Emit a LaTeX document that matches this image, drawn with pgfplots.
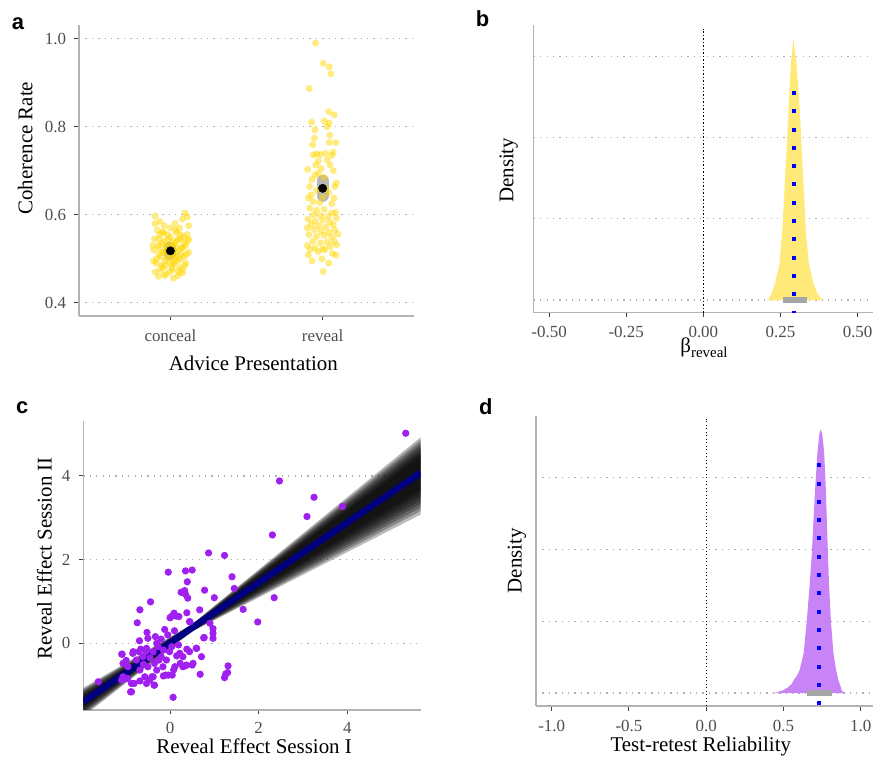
\documentclass[border=0pt]{standalone}
\usepackage{pgfplots}
\pgfplotsset{compat=1.18}
\usepackage{fontspec}
\setmainfont{Liberation Serif}
\newfontfamily\panelfont{Liberation Sans}
\definecolor{tickgray}{HTML}{4D4D4D}
\definecolor{axgray}{HTML}{B3B3B3}
\definecolor{gridgray}{HTML}{AEAEAE}
\definecolor{goldpt}{HTML}{FFD700}
\definecolor{densy}{RGB}{255,233,120}
\definecolor{densp}{RGB}{200,132,246}
\definecolor{ptpurple}{HTML}{A020F0}
\definecolor{ciGray}{HTML}{A6A6A6}
\definecolor{navyl}{HTML}{000080}
\pgfplotsset{
 ggbase/.style={
  scale only axis,
  anchor=south west,
  axis x line*=bottom, axis y line*=left,
  axis line style={axgray, line width=1.4bp},
  tick align=outside,
  major tick length=4.5bp,
  tick style={black!75, line width=1.0bp},
  xticklabel style={anchor=base, inner sep=0pt, yshift=-20.7bp, font=\fontsize{17}{17}\selectfont, text=tickgray},
  yticklabel style={anchor=east, inner sep=0pt, xshift=-8.3bp, font=\fontsize{17}{17}\selectfont, text=tickgray},
  label style={font=\fontsize{21}{21}\selectfont, inner sep=0pt},
  major grid style={gridgray, line width=1.3bp, dash pattern=on 1.3bp off 5.1bp},
  /pgf/number format/assume math mode=true,
 },
 gridl/.style={gridgray, line width=1.3bp, dash pattern=on 1.3bp off 5.1bp, forget plot},
 zerol/.style={black, line width=1.2bp, dash pattern=on 1.2bp off 2.3bp},
 bluedot/.style={blue, line width=4bp, dash pattern=on 4bp off 14.3bp},
 bandl/.style={draw=none, fill=black, fill opacity=0.27},
}
\begin{document}
\begin{tikzpicture}
\useasboundingbox (0,0) rectangle (873bp,758bp);
% ---------------- panel a ----------------
\begin{axis}[ggbase, at={(79bp,442bp)}, width=335bp, height=291bp,
 xmin=0.4, xmax=2.6, ymin=0.370, ymax=1.031,
 xtick={1,2}, xticklabels={conceal,reveal},
 ytick={0.4,0.6,0.8,1.0}, yticklabels={0.4,0.6,0.8,1.0},
 ymajorgrids,
 xlabel={Advice Presentation}, ylabel={Coherence Rate},
 xlabel style={at={(axis description cs:0.5203,-0.188)}, anchor=base},
 ylabel style={at={(axis description cs:-0.1394,0.5763)}, anchor=base}]
\addplot[only marks, mark=*, mark size=3.5bp, mark options={fill=goldpt, fill opacity=0.5, draw opacity=0}] coordinates {
(0.90,0.470)(0.91,0.500)(0.92,0.530)(0.93,0.555)(0.94,0.485)(0.95,0.515)(0.96,0.540)(0.97,0.465)
(0.98,0.500)(0.99,0.525)(1.00,0.550)(1.01,0.480)(1.02,0.510)(1.03,0.535)(1.04,0.560)(1.05,0.495)
(1.06,0.520)(1.07,0.545)(1.08,0.475)(1.09,0.505)(1.10,0.530)(1.11,0.555)(1.12,0.515)(0.89,0.520)
(0.895,0.545)(0.905,0.490)(0.915,0.565)(0.925,0.510)(0.935,0.475)(0.945,0.535)(0.955,0.560)(0.965,0.495)
(0.975,0.520)(0.985,0.545)(0.995,0.470)(1.005,0.505)(1.015,0.530)(1.025,0.490)(1.035,0.515)(1.045,0.540)
(1.055,0.470)(1.065,0.500)(1.075,0.525)(1.085,0.550)(1.095,0.485)(1.105,0.510)(1.115,0.540)(0.90,0.580)
(0.90,0.597)(0.93,0.585)(0.96,0.575)(1.00,0.570)(1.03,0.580)(1.06,0.570)(1.08,0.590)(1.096,0.604)
(1.11,0.595)(1.12,0.575)(0.92,0.460)(0.96,0.462)(1.02,0.456)(1.05,0.462)(1.08,0.468)(0.94,0.505)
(0.97,0.530)(1.00,0.490)(1.03,0.500)(1.06,0.480)(1.09,0.535)(0.99,0.510)(1.01,0.540)(1.04,0.525)
(0.98,0.555)(0.95,0.560)(1.07,0.510)(1.02,0.490)(0.97,0.485)(1.05,0.545)(0.93,0.525)(1.08,0.525)
(1.00,0.530)(1.04,0.505)(0.96,0.515)(1.10,0.490)(1.12,0.545)(0.89,0.495)(0.885,0.530)(0.95,0.480)
(1.015,0.475)(1.065,0.555)(0.925,0.545)(1.035,0.565)
(1.954,0.990)(2.004,0.944)(2.043,0.936)(2.054,0.920)(1.912,0.887)(2.041,0.834)(2.076,0.827)(1.928,0.810)
(2.011,0.813)(2.044,0.808)(1.950,0.793)(2.030,0.800)(1.945,0.774)(2.048,0.781)(1.934,0.759)(2.043,0.764)
(2.087,0.764)(1.938,0.736)(1.960,0.738)(1.985,0.737)(2.020,0.740)(2.060,0.735)(2.070,0.742)(1.972,0.722)
(2.048,0.713)(1.955,0.713)(1.902,0.703)(1.971,0.694)(2.070,0.700)(2.030,0.725)(1.990,0.705)(1.930,0.680)
(2.010,0.685)(2.090,0.672)(1.915,0.664)(2.080,0.664)(1.960,0.655)(2.040,0.650)(1.906,0.638)(2.075,0.638)
(1.938,0.630)(2.000,0.640)(1.925,0.645)(2.060,0.625)(1.980,0.627)(2.020,0.660)(1.950,0.690)(1.915,0.615)
(1.960,0.610)(2.010,0.612)(2.060,0.604)(1.940,0.600)(1.985,0.598)(2.035,0.596)(2.085,0.605)(1.905,0.590)
(1.950,0.585)(2.000,0.588)(2.045,0.583)(2.090,0.592)(1.925,0.578)(1.975,0.575)(2.020,0.572)(2.070,0.577)
(1.900,0.570)(1.945,0.566)(1.990,0.562)(2.040,0.560)(2.080,0.565)(1.910,0.555)(1.960,0.551)(2.010,0.553)
(2.060,0.550)(2.100,0.556)(1.935,0.540)(1.985,0.536)(2.030,0.538)(2.075,0.540)(1.900,0.530)(1.950,0.525)
(2.000,0.522)(2.050,0.528)(2.092,0.532)(1.920,0.521)(1.970,0.516)(2.015,0.521)(2.065,0.512)(2.088,0.508)
(1.906,0.509)(1.995,0.500)(2.004,0.471)(1.930,0.495)(2.040,0.490)
};
\addplot[ciGray, line width=12bp, line cap=round, opacity=0.8] coordinates {(1,0.511)(1,0.525)};
\addplot[ciGray, line width=12bp, line cap=round, opacity=0.8] coordinates {(2,0.643)(2,0.677)};
\addplot[only marks, mark=*, mark size=4.2bp, mark options={fill=black, draw=black}] coordinates {(1,0.518)(2,0.660)};
\end{axis}
% ---------------- panel b ----------------
\begin{axis}[ggbase, at={(533.7bp,445.3bp)}, width=339.3bp, height=287.7bp,
 xmin=-0.55, xmax=0.55, ymin=-0.156, ymax=3.387,
 xtick={-0.5,-0.25,0,0.25,0.5}, xticklabels={-0.50,-0.25,0.00,0.25,0.50},
 ytick=\empty,
 xlabel={β\raisebox{-4.5bp}{\fontsize{15}{15}\selectfont reveal}}, ylabel={Density},
 xlabel style={at={(axis description cs:0.502,-0.140)}, anchor=base},
 ylabel style={at={(axis description cs:-0.0601,0.495)}, anchor=base}]
\addplot[gridl] coordinates {(-0.55,0)(0.55,0)};
\addplot[gridl] coordinates {(-0.55,1)(0.55,1)};
\addplot[gridl] coordinates {(-0.55,2)(0.55,2)};
\addplot[gridl] coordinates {(-0.55,3)(0.55,3)};
\addplot[zerol] coordinates {(0,-0.156)(0,3.34)};
\addplot[draw=none, fill=densy] coordinates {
(0.205,0)(0.211,0.01)(0.222,0.086)(0.233,0.21)(0.247,0.45)(0.256,0.86)(0.262,1.27)(0.267,1.68)
(0.273,2.09)(0.278,2.50)(0.284,2.915)(0.2916,3.22)(0.302,2.915)(0.310,2.50)(0.316,2.09)(0.321,1.68)
(0.327,1.27)(0.332,0.86)(0.342,0.45)(0.356,0.21)(0.369,0.086)(0.383,0.01)(0.395,0)} \closedcycle;
\addplot[ciGray, line width=6.5bp] coordinates {(0.257,0)(0.337,0)};
\addplot[bluedot] coordinates {(0.295,2.575)(0.295,-0.16)};
\end{axis}
% ---------------- panel c ----------------
\begin{axis}[ggbase, at={(83.3bp,48bp)}, width=337.4bp, height=289.3bp,
 xmin=-1.957, xmax=5.657, ymin=-1.594, ymax=5.32,
 xtick={0,2,4}, xticklabels={0,2,4}, ytick={0,2,4}, yticklabels={0,2,4},
 ymajorgrids,
 xticklabel style={yshift=1.5bp},
 xlabel={Reveal Effect Session I}, ylabel={Reveal Effect Session II},
 xlabel style={at={(axis description cs:0.5065,-0.152)}, anchor=base},
 ylabel style={at={(axis description cs:-0.0937,0.524)}, anchor=base}]
\addplot[only marks, mark=*, mark size=3.65bp, mark options={fill=ptpurple, draw opacity=0}] coordinates {
(5.32,5.02)(2.47,3.88)(3.25,3.49)(3.09,3.03)(3.89,3.27)(2.31,2.59)(2.35,1.09)(1.98,0.51)
(1.65,0.81)(1.40,1.59)(1.45,1.31)(1.23,2.10)(0.87,2.16)(-0.04,1.70)(0.35,1.73)(0.50,1.75)
(0.39,1.47)(0.30,1.21)(0.35,1.17)(0.40,1.08)(0.78,1.27)(1.00,1.09)(-0.44,0.99)(-0.68,0.80)
(-0.74,0.49)(0.00,0.61)(0.09,0.72)(0.20,0.64)(0.38,0.73)(0.45,0.51)(0.67,0.80)(-0.12,0.33)
(-0.52,0.26)(-0.50,0.12)(-0.33,0.16)(-0.69,0.06)(0.77,0.14)(0.97,0.12)(0.97,0.35)(0.90,0.48)
(0.97,0.24)(0.76,0.13)(0.44,0.52)(0.14,0.65)(0.03,0.64)(0.25,1.22)(0.33,1.26)(-1.09,-0.26)
(-0.99,-0.41)(-0.83,-0.20)(-0.66,-0.14)(-0.53,-0.12)(-0.30,0.00)(-0.15,-0.16)(0.04,-0.08)(0.19,-0.04)
(0.38,-0.14)(0.60,-0.12)(0.71,-0.32)(0.50,-0.52)(0.34,-0.54)(0.23,-0.48)(0.08,-0.64)(-0.04,-0.76)
(-0.15,-0.78)(-0.30,-0.64)(-0.41,-0.80)(-0.53,-0.96)(-0.36,-1.00)(-0.68,-0.90)(-0.81,-0.96)(-0.89,-1.16)
(-0.96,-0.84)(-1.09,-0.88)(-1.62,-0.92)(0.07,-1.29)(0.68,-0.74)(1.23,-0.82)(1.31,-0.54)(1.30,-0.70)
(-1.08,-0.26)(-0.84,-0.24)(-1.06,-0.48)(-0.95,-0.56)(-0.76,-0.40)(-0.61,-0.32)(-0.54,-0.20)(-0.38,-0.20)
(-0.27,-0.08)(-0.50,-0.56)(-0.57,-0.80)(-0.38,-0.80)(-0.87,-0.96)(-0.87,-1.16)(-1.06,-0.80)(-0.16,-0.56)
(-0.10,-0.76)(0.05,-0.76)(0.11,-0.56)(0.29,-0.56)(0.29,-0.32)(0.22,-0.24)(0.44,-0.20)(0.59,-0.12)
(0.52,-0.48)(0.37,-0.52)(1.26,-0.73)(-0.20,-0.32)(-0.01,-0.20)(-0.08,-0.40)(-0.35,-0.48)(-0.68,-0.64)
(-0.46,-0.88)(-0.35,-1.00)(-0.20,0.10)(0.10,0.30)(-0.60,-0.50)(-0.45,-0.35)(-0.70,-0.20)(-0.25,-0.40)
(0.15,-0.30)(-0.05,0.20)
};
\addplot[bandl] coordinates {(-1.957,-1.065)(0.5,0.4615)(5.657,4.927)(5.657,3.077)(0.5,0.2815)(-1.957,-1.745)} --cycle;
\addplot[bandl] coordinates {(-1.957,-1.095)(0.5,0.4565)(5.657,4.863)(5.657,3.163)(0.5,0.2865)(-1.957,-1.712)} --cycle;
\addplot[bandl] coordinates {(-1.957,-1.125)(0.5,0.4515)(5.657,4.798)(5.657,3.248)(0.5,0.2915)(-1.957,-1.679)} --cycle;
\addplot[bandl] coordinates {(-1.957,-1.155)(0.5,0.4465)(5.657,4.734)(5.657,3.334)(0.5,0.2965)(-1.957,-1.646)} --cycle;
\addplot[bandl] coordinates {(-1.957,-1.185)(0.5,0.4415)(5.657,4.670)(5.657,3.420)(0.5,0.3015)(-1.957,-1.614)} --cycle;
\addplot[bandl] coordinates {(-1.957,-1.215)(0.5,0.4365)(5.657,4.606)(5.657,3.506)(0.5,0.3065)(-1.957,-1.581)} --cycle;
\addplot[bandl] coordinates {(-1.957,-1.245)(0.5,0.4315)(5.657,4.541)(5.657,3.591)(0.5,0.3115)(-1.957,-1.548)} --cycle;
\addplot[bandl] coordinates {(-1.957,-1.275)(0.5,0.4265)(5.657,4.477)(5.657,3.677)(0.5,0.3165)(-1.957,-1.515)} --cycle;
\addplot[navyl, line width=6.5bp] coordinates {(-1.957,-1.395)(5.657,4.077)};
\end{axis}
% ---------------- panel d ----------------
\begin{axis}[ggbase, at={(536bp,52bp)}, width=337bp, height=290bp,
 xmin=-1.1016, xmax=1.08, ymin=-0.181, ymax=3.858,
 xtick={-1,-0.5,0,0.5,1}, xticklabels={-1.0,-0.5,0.0,0.5,1.0},
 ytick=\empty,
 xlabel={Test-retest Reliability}, ylabel={Density},
 xlabel style={at={(axis description cs:0.489,-0.1576)}, anchor=base},
 ylabel style={at={(axis description cs:-0.0424,0.5007)}, anchor=base}]
\addplot[gridl] coordinates {(-1.1016,0)(1.08,0)};
\addplot[gridl] coordinates {(-1.1016,1)(1.08,1)};
\addplot[gridl] coordinates {(-1.1016,2)(1.08,2)};
\addplot[gridl] coordinates {(-1.1016,3)(1.08,3)};
\addplot[zerol] coordinates {(0,-0.181)(0,3.82)};
\addplot[draw=none, fill=densp] coordinates {
(0.42,0)(0.46,0.01)(0.50,0.04)(0.53,0.08)(0.555,0.13)(0.566,0.18)(0.59,0.25)(0.605,0.32)
(0.631,0.55)(0.652,1.02)(0.669,1.48)(0.684,1.95)(0.695,2.41)(0.706,2.87)(0.720,3.34)(0.732,3.60)
(0.742,3.67)(0.752,3.60)(0.764,3.34)(0.774,2.87)(0.781,2.41)(0.788,1.95)(0.796,1.48)(0.807,1.02)
(0.824,0.55)(0.841,0.32)(0.856,0.18)(0.867,0.11)(0.877,0.04)(0.888,0.01)(0.895,0)} \closedcycle;
\addplot[ciGray, line width=6.5bp] coordinates {(0.652,0)(0.813,0)};
\addplot[bluedot] coordinates {(0.733,3.20)(0.733,-0.181)};
\end{axis}
% panel letters
\node[anchor=base west, inner sep=0pt] at (11.7bp,728bp) {\panelfont\bfseries\fontsize{22}{22}\selectfont a};
\node[anchor=base west, inner sep=0pt] at (475.7bp,731bp) {\panelfont\bfseries\fontsize{22}{22}\selectfont b};
\node[anchor=base west, inner sep=0pt] at (16bp,344bp) {\panelfont\bfseries\fontsize{22}{22}\selectfont c};
\node[anchor=base west, inner sep=0pt] at (479bp,343bp) {\panelfont\bfseries\fontsize{22}{22}\selectfont d};
\end{tikzpicture}
\end{document}
